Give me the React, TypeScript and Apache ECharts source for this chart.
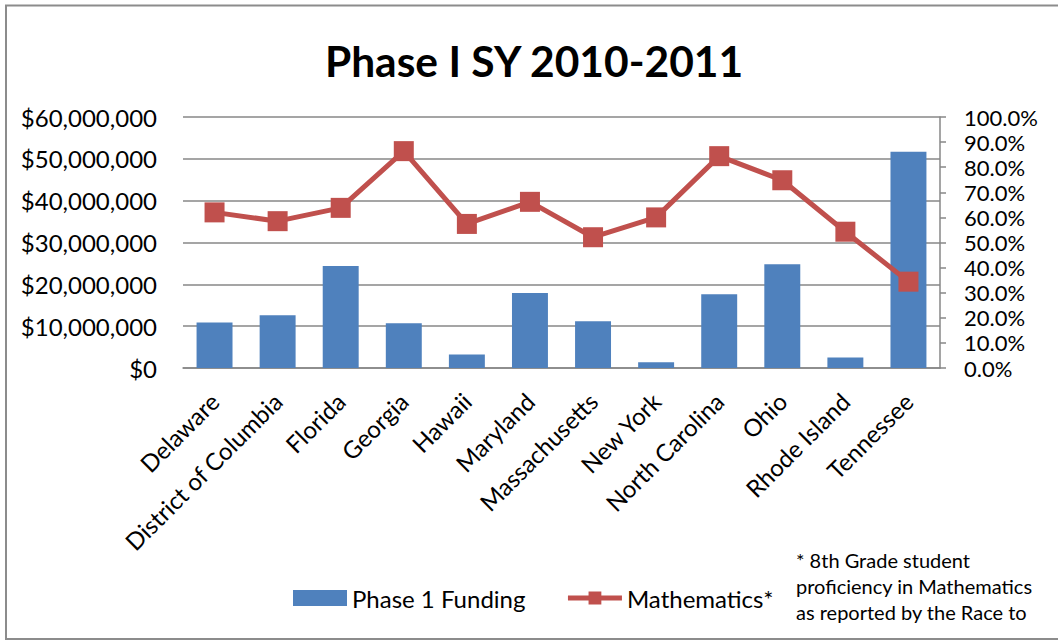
import React, { useEffect, useRef } from "react";
import * as echarts from "echarts";

const categories = [
  "Delaware",
  "District of Columbia",
  "Florida",
  "Georgia",
  "Hawaii",
  "Maryland",
  "Massachusetts",
  "New York",
  "North Carolina",
  "Ohio",
  "Rhode Island",
  "Tennessee",
];

const funding = [
  10900000, 12600000, 24400000, 10700000, 3200000, 17900000, 11200000, 1400000,
  17600000, 24800000, 2500000, 51700000,
];

const mathematics = [62.0, 58.5, 63.8, 86.4, 57.4, 66.2, 52.1, 60.0, 84.4, 74.8, 54.3, 34.4];

const footnoteLines = [
  "* 8th Grade student",
  "proficiency in Mathematics",
  "as reported by the Race to",
];

const FONT = "Lato, 'Open Sans', sans-serif";
const BLUE = "#4F81BD";
const RED = "#C0504D";
const GRID = "#878787";

export default function App() {
  const ref = useRef<HTMLDivElement>(null);

  useEffect(() => {
    if (!ref.current) return;
    const chart = echarts.init(ref.current, undefined, { renderer: "svg" });
    chart.setOption({
      animation: false,
      backgroundColor: "#ffffff",
      textStyle: { fontFamily: FONT },
      title: {
        text: "Phase I SY 2010-2011",
        left: 529,
        textAlign: "center",
        top: 34,
        textStyle: { fontFamily: FONT, fontWeight: "bold", fontSize: 42.5, color: "#000" },
      },
      grid: { left: 183, right: 118, top: 117, bottom: 273, containLabel: false },
      legend: {
        left: 293,
        top: 586,
        padding: 0,
        itemWidth: 54,
        itemHeight: 16,
        itemGap: 40,
        textStyle: { fontFamily: FONT, fontSize: 24, color: "#000" },
        data: [
          { name: "Phase 1 Funding", icon: "rect" },
          { name: "Mathematics*", lineStyle: { width: 5, color: RED } },
        ],
      },
      xAxis: {
        type: "category",
        data: categories,
        axisLine: { show: true, lineStyle: { color: GRID, width: 1.5 } },
        axisTick: { show: false },
        axisLabel: {
          rotate: 45,
          interval: 0,
          margin: 29,
          fontFamily: FONT,
          fontSize: 24,
          color: "#000",
        },
      },
      yAxis: [
        {
          type: "value",
          min: 0,
          max: 60000000,
          interval: 10000000,
          axisLine: { show: false },
          axisTick: { show: false },
          splitLine: { show: true, lineStyle: { color: GRID, width: 1.5 } },
          axisLabel: {
            margin: 26,
            fontFamily: FONT,
            fontSize: 24,
            color: "#000",
            formatter: (v: number) => "$" + v.toLocaleString("en-US"),
          },
        },
        {
          type: "value",
          min: 0,
          max: 100,
          interval: 10,
          position: "right",
          axisLine: { show: true, lineStyle: { color: GRID, width: 1.5 } },
          axisTick: { show: true, inside: false, length: 6, lineStyle: { color: GRID, width: 1.5 } },
          splitLine: { show: false },
          axisLabel: {
            margin: 24,
            fontFamily: FONT,
            fontSize: 22,
            lineHeight: 22,
            color: "#000",
            formatter: (v: number) => v.toFixed(1) + "%",
          },
        },
      ],
      series: [
        {
          name: "Phase 1 Funding",
          type: "bar",
          data: funding,
          yAxisIndex: 0,
          barWidth: "57%",
          itemStyle: { color: BLUE },
        },
        {
          name: "Mathematics*",
          type: "line",
          data: mathematics,
          yAxisIndex: 1,
          symbol: "rect",
          symbolSize: 20,
          lineStyle: { color: RED, width: 5 },
          itemStyle: { color: RED },
        },
      ],
      graphic: [
        {
          type: "rect",
          shape: { x: 6, y: 5.5, width: 1070, height: 633.5 },
          style: { fill: "none", stroke: "#8c8c8c", lineWidth: 2 },
          silent: true,
        },
        ...footnoteLines.map((t, i) => ({
          type: "text",
          left: 796,
          top: 550 + i * 26,
          style: { text: t, fontFamily: FONT, fontSize: 20, fill: "#000" },
        })),
      ],
    });
    return () => chart.dispose();
  }, []);

  return (
    <div
      ref={ref}
      style={{ position: "fixed", left: 0, top: 0, width: 1058, height: 641 }}
    />
  );
}
